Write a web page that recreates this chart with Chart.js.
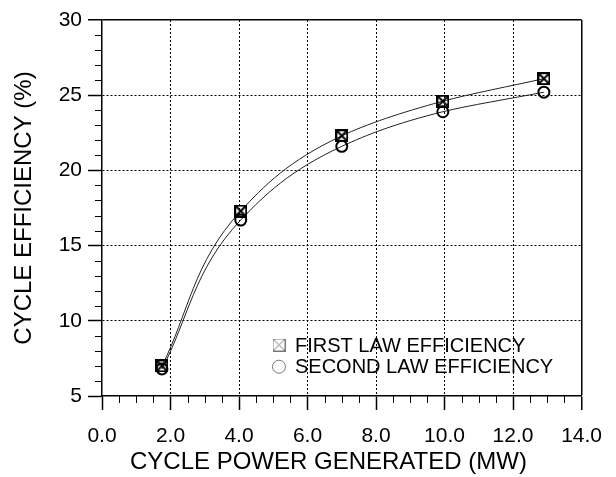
<!DOCTYPE html>
<html>
<head>
<meta charset="utf-8">
<script src="https://cdn.jsdelivr.net/npm/chart.js@4.4.0/dist/chart.umd.min.js"></script>
<style>
  html, body { margin: 0; padding: 0; background: #fff; }
  #wrap { width: 616px; height: 477px; }
</style>
</head>
<body>
<div id="wrap"><canvas id="efficiencyChart" width="616" height="477"></canvas></div>
<script>
// values
const powerMW = [1.75, 4.05, 7.0, 9.95, 12.9];
const firstLawEff = [7.0, 17.3, 22.3, 24.6, 26.1];
const secondLawEff = [6.8, 16.7, 21.6, 23.9, 25.2];
const seriesLabels = ['FIRST LAW EFFICIENCY', 'SECOND LAW EFFICIENCY'];
const xTicks = [0, 2, 4, 6, 8, 10, 12, 14];
const yTicks = [5, 10, 15, 20, 25, 30];
const xMinorStep = 0.5;
const yMinorStep = 1;

Chart.defaults.font.family = '"Liberation Sans", Arial, sans-serif';
Chart.defaults.color = '#000';

// square with an X through it
function boxX(size, color, width) {
    const c = document.createElement('canvas');
    c.width = size;
    c.height = size;
    const g = c.getContext('2d');
    g.strokeStyle = color;
    g.lineWidth = width;
    const o = width / 2;
    g.strokeRect(o, o, size - width, size - width);
    g.beginPath();
    g.moveTo(o, o);
    g.lineTo(size - o, size - o);
    g.moveTo(size - o, o);
    g.lineTo(o, size - o);
    g.stroke();
    return c;
}

const pointBox = boxX(13, '#000', 2);
const legendBox = boxX(13, '#777', 1);

const toPoints = (ys) => powerMW.map((x, i) => ({ x: x, y: ys[i] }));

// small ticks between the labelled ones
const minorTicks = {
    id: 'minorTicks',
    afterDraw(chart) {
        const { ctx, chartArea: a, scales: { x, y } } = chart;
        ctx.save();
        ctx.strokeStyle = '#000';
        ctx.lineWidth = 1;
        ctx.beginPath();
        for (let v = x.min + xMinorStep; v < x.max; v += xMinorStep) {
            if (xTicks.includes(v)) continue;
            const px = Math.round(x.getPixelForValue(v)) + 0.5;
            ctx.moveTo(px, a.bottom);
            ctx.lineTo(px, a.bottom + 7);
        }
        for (let v = y.min + yMinorStep; v < y.max; v += yMinorStep) {
            if (yTicks.includes(v)) continue;
            const py = Math.round(y.getPixelForValue(v)) + 0.5;
            ctx.moveTo(a.left - 7, py);
            ctx.lineTo(a.left, py);
        }
        ctx.stroke();
        ctx.restore();
    }
};

// legend sits inside the plot, lower right
const insideLegend = {
    id: 'insideLegend',
    afterDraw(chart) {
        const { ctx, chartArea: a } = chart;
        const x0 = a.left + 177;
        const y0 = a.bottom - 51;
        const gap = 21.7;
        ctx.save();
        ctx.font = '20px "Liberation Sans", Arial, sans-serif';
        ctx.textBaseline = 'middle';
        chart.data.datasets.forEach((ds, i) => {
            const yy = y0 + i * gap;
            if (ds.legendMarker === 'box') {
                ctx.drawImage(legendBox, x0 - 6.5, yy - 6.5);
            } else {
                ctx.beginPath();
                ctx.arc(x0, yy, 6.5, 0, Math.PI * 2);
                ctx.strokeStyle = '#777';
                ctx.lineWidth = 1;
                ctx.stroke();
            }
            ctx.fillStyle = '#000';
            ctx.fillText(ds.label, x0 + 16, yy + 1);
        });
        ctx.restore();
    }
};

const isTick = (c, v) => c.tick && c.tick.value === v;

new Chart(document.getElementById('efficiencyChart'), {
    type: 'line',
    data: {
        datasets: [
            {
                label: seriesLabels[0],
                legendMarker: 'box',
                data: toPoints(firstLawEff),
                indexAxis: 'y',
                borderColor: '#222',
                borderWidth: 1,
                cubicInterpolationMode: 'monotone',
                pointStyle: pointBox,
                pointRadius: 6
            },
            {
                label: seriesLabels[1],
                legendMarker: 'circle',
                data: toPoints(secondLawEff),
                indexAxis: 'y',
                borderColor: '#222',
                borderWidth: 1,
                cubicInterpolationMode: 'monotone',
                pointStyle: 'circle',
                pointRadius: 5.5,
                pointBorderWidth: 2,
                pointBorderColor: '#000',
                pointBackgroundColor: 'rgba(0,0,0,0)'
            }
        ]
    },
    options: {
        responsive: false,
        animation: false,
        layout: { padding: { top: 20, right: 23, left: 0, bottom: 0 } },
        plugins: {
            legend: { display: false },
            tooltip: { enabled: false }
        },
        scales: {
            x: {
                type: 'linear',
                position: 'bottom',
                min: 0,
                max: 14,
                afterBuildTicks: (s) => { s.ticks = xTicks.map(v => ({ value: v })); },
                afterFit: (s) => { s.height = 81; },
                ticks: {
                    callback: (v) => v.toFixed(1),
                    font: { size: 21 },
                    color: '#000',
                    padding: 14,
                    maxRotation: 0,
                    autoSkip: false
                },
                grid: {
                    color: (c) => isTick(c, 0) ? 'rgba(0,0,0,0)' : '#000',
                    lineWidth: (c) => isTick(c, 14) ? 1.5 : 1,
                    tickColor: '#000',
                    tickWidth: 1.5,
                    tickLength: 14
                },
                border: {
                    color: '#000',
                    width: 1.5,
                    dash: (c) => (c.tick && c.tick.value !== 14) ? [2, 2] : []
                },
                title: {
                    display: true,
                    text: 'CYCLE POWER GENERATED (MW)\u00a0\u00a0\u00a0\u00a0',
                    font: { size: 24 },
                    color: '#000',
                    padding: { top: 0, bottom: 0 }
                }
            },
            y: {
                type: 'linear',
                position: 'left',
                min: 5,
                max: 30,
                afterBuildTicks: (s) => { s.ticks = yTicks.map(v => ({ value: v })); },
                afterFit: (s) => { s.width = 102; },
                ticks: {
                    font: { size: 21 },
                    color: '#000',
                    padding: 6
                },
                grid: {
                    color: (c) => isTick(c, 5) ? 'rgba(0,0,0,0)' : '#000',
                    lineWidth: (c) => isTick(c, 30) ? 1.5 : 1,
                    tickColor: '#000',
                    tickWidth: 1.5,
                    tickLength: 14
                },
                border: {
                    color: '#000',
                    width: 1.5,
                    dash: (c) => (c.tick && c.tick.value !== 30) ? [2, 2] : []
                },
                title: {
                    display: true,
                    text: 'CYCLE EFFICIENCY (%)',
                    font: { size: 24 },
                    color: '#000',
                    padding: { top: 10, bottom: 0 }
                }
            }
        }
    },
    plugins: [minorTicks, insideLegend]
});
</script>
</body>
</html>
